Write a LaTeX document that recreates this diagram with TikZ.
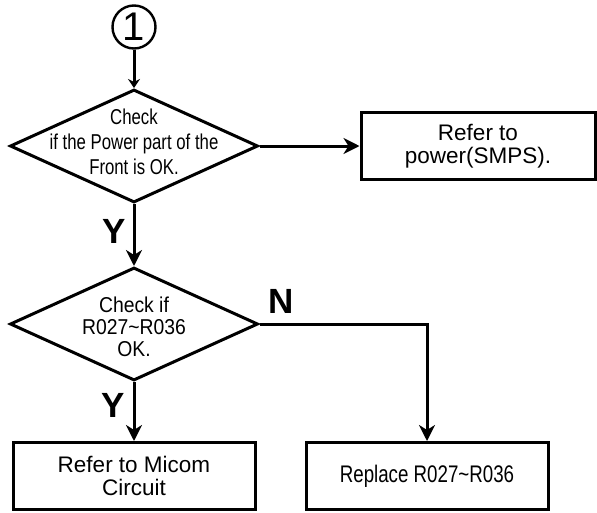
\documentclass[tikz,border=0pt]{standalone}
\usepackage{fontspec}
\setmainfont{Liberation Sans}
\newfontfamily\narrowfont[FakeStretch=0.78]{Liberation Sans}
\newfontfamily\semifont[FakeStretch=0.9]{Liberation Sans}
\usetikzlibrary{shapes.geometric, arrows.meta}

\begin{document}
\begin{tikzpicture}[x=1pt, y=-1pt, line width=3pt,
  decision/.style={diamond, draw, minimum width=248pt, minimum height=113pt, inner sep=0pt},
  process/.style={rectangle, draw, minimum height=67pt, align=center, font=\fontsize{22.5}{23}\selectfont},
  qtext/.style={align=center, inner sep=0pt},
  yn/.style={font=\fontsize{35}{35}\bfseries\selectfont},
  flow/.style={-{Stealth[length=16pt, width=16pt, inset=5pt]}}]

\useasboundingbox (0,0) rectangle (597,512);

% Start connector
\node[circle, draw, line width=2.4pt, minimum size=43pt, inner sep=0pt, font=\fontsize{40}{40}\selectfont] (start) at (134,27) {1};

% First check
\node[decision] (dec1) at (134,146) {};
\node[qtext, font=\narrowfont\fontsize{21.5}{25}\selectfont] (dec1txt) at (134,142) {Check\\if the Power part of the\\Front is OK.};

% SMPS box
\node[process, minimum width=234pt] (smps) at (478,146) {Refer to\\power(SMPS).};

% Second check
\node[decision] (dec2) at (134,324) {};
\node[qtext, font=\semifont\fontsize{21.5}{22}\selectfont] (dec2txt) at (134,327) {Check if\\R027\textasciitilde R036\\OK.};

% Result boxes
\node[process, minimum width=242pt] (micom) at (134,476) {Refer to Micom\\Circuit};
\node[process, minimum width=242pt, font=\narrowfont\fontsize{24}{24}\selectfont] (replace) at (427,476) {Replace R027\textasciitilde R036};

% Y / N labels
\node[yn] (y1) at (114,231) {Y};
\node[yn] (n2) at (281,301) {N};
\node[yn] (y2) at (113,405) {Y};

% Connectors
\draw[-{Stealth[length=9pt, width=12pt]}] (start) -- (dec1.north);
\draw[flow] (dec1.east) -- (smps.west);
\draw[flow] (dec1.south) -- (dec2.north);
\draw[flow] (dec2.east) -| (replace.north);
\draw[flow] (dec2.south) -- (micom.north);

\end{tikzpicture}
\end{document}
